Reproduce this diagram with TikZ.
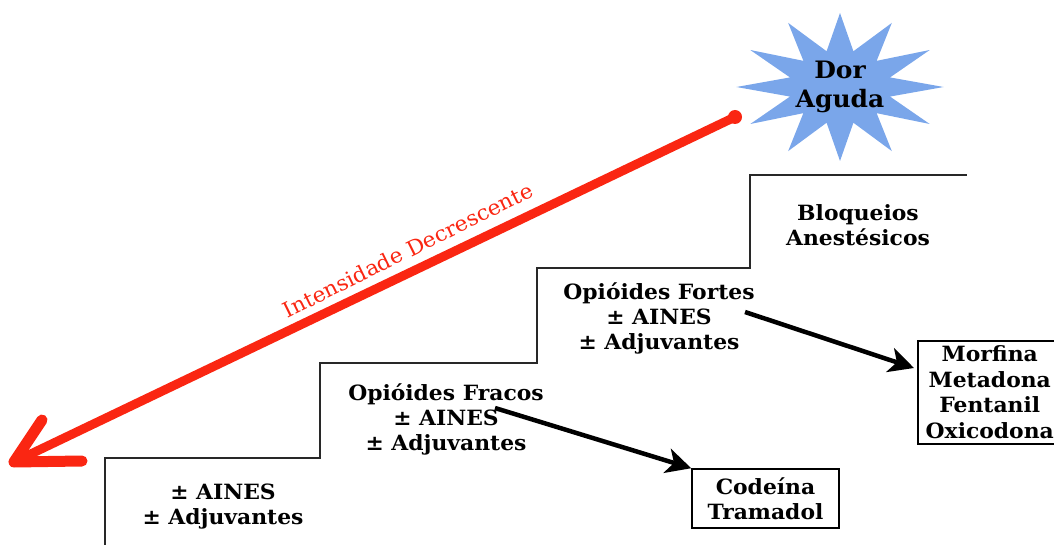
\documentclass[tikz,border=0pt]{standalone}
\usepackage{fontspec}
\setmainfont{DejaVu Serif}[FakeStretch=1.04]
\usetikzlibrary{shapes.geometric,arrows.meta}

\definecolor{painred}{RGB}{250,38,18}
\definecolor{burstblue}{RGB}{122,166,234}
\definecolor{stairgray}{RGB}{40,40,40}

\begin{document}
\begin{tikzpicture}[x=1pt,y=-1pt,
  stairline/.style={draw=stairgray,line width=1.8pt},
  steptext/.style={font=\bfseries\fontsize{21}{25}\selectfont,align=center,inner sep=0pt},
  drugbox/.style={draw=black,line width=1.5pt,font=\bfseries\fontsize{21}{25.5}\selectfont,align=center,inner sep=0pt},
  pointer/.style={line width=4.5pt,-{Stealth[length=25pt,width=25pt,inset=7pt]}},
  painline/.style={draw=painred,line width=9pt,line cap=round,line join=round}]
\useasboundingbox (0,0) rectangle (1054,545);

% staircase
\draw[stairline] (105,548) -- (105,458) -- (320,458) -- (320,363) -- (537,363)
  -- (537,268) -- (750,268) -- (750,175) -- (967,175);

% starburst with its label
\node[star,star points=12,star point ratio=2.0,minimum size=148pt,inner sep=0pt,
  fill=burstblue,xscale=1.4,transform shape] (burst) at (840,87) {};
\node[steptext,font=\bfseries\fontsize{24}{29}\selectfont] (pain) at (840,87) {Dor\\Aguda};

% step contents
\node[steptext] (block) at (858,225) {Bloqueios\\Anestésicos};
\node[steptext] (strong) at (659,318) {Opióides Fortes\\± AINES\\± Adjuvantes};
\node[steptext] (weak) at (446,419) {Opióides Fracos\\± AINES\\± Adjuvantes};
\node[steptext] (base) at (223,507) {± AINES\\± Adjuvantes};

% drug boxes
\node[drugbox,minimum width=147pt,minimum height=59pt] (codeine) at (765.5,498.5) {Codeína\\Tramadol};
\node[drugbox,anchor=north west,minimum width=150pt,minimum height=103pt,text width=150pt] (morphine) at (917,340)
  {\hspace*{-6pt}Morfina\\\hspace*{-6pt}Metadona\\\hspace*{-6pt}Fentanil\\\hspace*{-6pt}Oxicodona};

% arrows to the drug boxes
\coordinate (weakout) at (495,408);
\coordinate (strongout) at (745,312);
\coordinate (morphin) at (914,368);
\draw[pointer] (weakout) -- (codeine.north west);
\draw[pointer] (strongout) -- (morphin);

% decreasing intensity arrow
\coordinate (redstart) at (735,117);
\coordinate (redtip) at (14,462);
\coordinate (barbup) at (42,420);
\coordinate (barbdown) at (82,461);
\fill[painred] (redstart) circle (7pt);
\draw[painline] (redstart) -- (redtip);
\draw[painline,line width=11pt] (barbup) -- (redtip) -- (barbdown);
\node[text=painred,font=\fontsize{21}{24}\selectfont,rotate=26.3,inner sep=0pt] (intensity) at (408,250)
  {Intensidade Decrescente};
\end{tikzpicture}
\end{document}
